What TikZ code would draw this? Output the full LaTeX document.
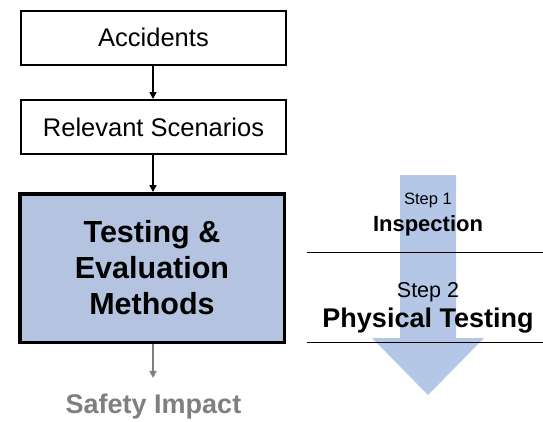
\documentclass[tikz,border=0pt]{standalone}
\usepackage{fontspec}
\setmainfont{Liberation Sans}
\usetikzlibrary{arrows.meta}
\definecolor{paleblue}{HTML}{B4C7E7}
\definecolor{boxblue}{HTML}{B3C3E0}
\definecolor{midgray}{HTML}{7F7F7F}
\begin{document}
\begin{tikzpicture}[x=1pt,y=-1pt,
  box/.style={draw=black, line width=2pt, fill=white, minimum width=265pt,
    minimum height=54pt, inner sep=0pt, font=\fontsize{25.5}{29}\selectfont},
  mainbox/.style={draw=black, line width=3.5pt, fill=boxblue, minimum width=264.5pt,
    minimum height=148.5pt, inner sep=0pt, align=center,
    font=\bfseries\fontsize{30.5}{36}\selectfont},
  link/.style={line width=1.5pt, -{Triangle[length=7pt,width=7pt]}},
  divider/.style={line width=1pt, black}
]
\useasboundingbox (0,0) rectangle (543,421);

% flow of boxes on the left
\node[box] (acc) at (153.5,37.5) {Accidents};
\node[box] (scen) at (153.5,127) {Relevant Scenarios};
\node[mainbox] (tem) at (152,268) {Testing \&\\Evaluation\\Methods};
\node[font=\bfseries\fontsize{27}{32}\selectfont, text=midgray, anchor=base]
  (impact) at (153.5,413) {Safety Impact};

\draw[link] (acc.south -| 153,0) -- (scen.north -| 153,0);
\draw[link] (scen.south -| 153,0) -- (tem.north -| 153,0);
\draw[link, midgray, shorten >=12pt] (tem.south -| 153,0) -- (impact.north -| 153,0);

% broad downward arrow on the right
\fill[paleblue] (400,175) -- (456,175) -- (456,338) -- (484,338)
  -- (428,395) -- (372,338) -- (400,338) -- cycle;

\coordinate (d1a) at (307,252);
\coordinate (d1b) at (543,252);
\coordinate (d2a) at (307,342);
\coordinate (d2b) at (543,342);
\draw[divider] (d1a) -- (d1b);
\draw[divider] (d2a) -- (d2b);

\node[anchor=base, font=\fontsize{16.5}{20}\selectfont] (s1) at (428,204) {Step 1};
\node[anchor=base, font=\bfseries\fontsize{22}{26}\selectfont] (s1t) at (428,231) {Inspection};
\node[anchor=base, font=\fontsize{21.5}{26}\selectfont] (s2) at (428,297) {Step 2};
\node[anchor=base, font=\bfseries\fontsize{27}{32}\selectfont] (s2t) at (428,327) {Physical Testing};
\end{tikzpicture}
\end{document}
